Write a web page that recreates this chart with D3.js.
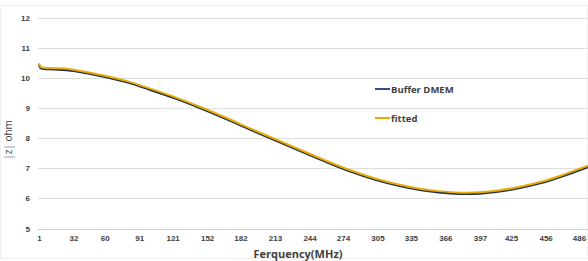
<!DOCTYPE html>
<meta charset="utf-8">
<style>
  body { margin: 0; background: #fff; }
  svg { display: block; font-family: "Open Sans", "Liberation Sans", sans-serif; }
  .axis text { font-size: 8px; font-weight: bold; fill: #404040; }
</style>
<body>
<svg id="chart" width="588" height="261"></svg>
<script src="https://cdn.jsdelivr.net/npm/d3@7"></script>
<script>
// frequency (MHz) sample points
var freq = [1, 2, 4, 15, 32, 56, 80, 101, 123, 146, 168, 190, 213, 235, 258, 280, 303, 325, 343, 360, 379, 397, 415, 435, 451, 470, 494];

var fitted = [10.48, 10.38, 10.34, 10.32, 10.27, 10.10, 9.89, 9.64, 9.36, 9.03, 8.69, 8.33, 7.97, 7.62, 7.26, 6.94, 6.66, 6.45, 6.32, 6.24, 6.19, 6.20, 6.27, 6.40, 6.54, 6.76, 7.08];

var bufferDMEM = [10.45, 10.34, 10.30, 10.28, 10.23, 10.06, 9.85, 9.60, 9.32, 8.99, 8.65, 8.29, 7.93, 7.58, 7.22, 6.90, 6.62, 6.41, 6.28, 6.20, 6.15, 6.16, 6.23, 6.36, 6.50, 6.72, 7.04];

var xTicks = [1, 32, 60, 91, 121, 152, 182, 213, 244, 274, 305, 335, 366, 397, 425, 456, 486];
var yTicks = [5, 6, 7, 8, 9, 10, 11, 12];

var svg = d3.select("#chart");

var x = d3.scaleLinear().domain([1, 486]).range([39, 579]);
var y = d3.scaleLinear().domain([5, 12]).range([228.5, 17.5]);

// faint outer frame
svg.append("rect")
    .attr("x", 0.5).attr("y", 5.5)
    .attr("width", 587).attr("height", 253)
    .attr("fill", "none")
    .attr("stroke", "#f0f0f0");

// gridlines
svg.append("g")
    .selectAll("line")
    .data(yTicks)
    .enter().append("line")
    .attr("x1", 38).attr("x2", 588)
    .attr("y1", function(d) { return Math.round(y(d)) + 0.5; })
    .attr("y2", function(d) { return Math.round(y(d)) + 0.5; })
    .attr("stroke", function(d) { return d === 5 ? "#cfcfcf" : "#dedede"; });

// y axis labels
var yAxis = svg.append("g")
    .attr("class", "axis")
    .attr("transform", "translate(38,0)")
    .call(d3.axisLeft(y).tickValues(yTicks).tickFormat(d3.format("d")).tickSize(0).tickPadding(8));
yAxis.select(".domain").remove();

// x axis labels
var xAxis = svg.append("g")
    .attr("class", "axis")
    .attr("transform", "translate(0,229)")
    .call(d3.axisBottom(x).tickValues(xTicks).tickFormat(d3.format("d")).tickSize(0).tickPadding(6));
xAxis.select(".domain").remove();

var line = d3.line()
    .x(function(d, i) { return x(freq[i]); })
    .y(function(d) { return y(d); })
    .curve(d3.curveCatmullRom.alpha(0.5));

svg.append("defs").append("clipPath").attr("id", "clip")
  .append("rect").attr("x", 30).attr("y", 0).attr("width", 558).attr("height", 261);

var plot = svg.append("g").attr("clip-path", "url(#clip)");

plot.append("path")
    .datum(bufferDMEM)
    .attr("d", line)
    .attr("fill", "none")
    .attr("stroke", "#1f2f4f")
    .attr("stroke-width", 2.2);

plot.append("path")
    .datum(fitted)
    .attr("d", line)
    .attr("fill", "none")
    .attr("stroke", "#e8ac00")
    .attr("stroke-width", 2);

// legend
var legend = [
  { name: "Buffer DMEM", color: "#2f4f8f", y: 89 },
  { name: "fitted", color: "#e8ac00", y: 118 }
];
var lg = svg.append("g").selectAll("g").data(legend).enter().append("g");
lg.append("line")
    .attr("x1", 375).attr("x2", 390)
    .attr("y1", function(d) { return d.y; })
    .attr("y2", function(d) { return d.y; })
    .attr("stroke", function(d) { return d.color; })
    .attr("stroke-width", 2);
lg.append("text")
    .attr("x", 391)
    .attr("y", function(d) { return d.y + 3.5; })
    .style("font-size", "9.5px")
    .style("font-weight", "bold")
    .style("fill", "#404040")
    .text(function(d) { return d.name; });

// axis titles
svg.append("text")
    .attr("transform", "translate(12,140) rotate(-90)")
    .attr("text-anchor", "middle")
    .style("font-size", "10px")
    .style("fill", "#404040")
    .text("|z| ohm");

svg.append("text")
    .attr("x", 298).attr("y", 258)
    .attr("text-anchor", "middle")
    .style("font-size", "11px")
    .style("font-weight", "bold")
    .style("fill", "#404040")
    .text("Ferquency(MHz)");
</script>
</body>
